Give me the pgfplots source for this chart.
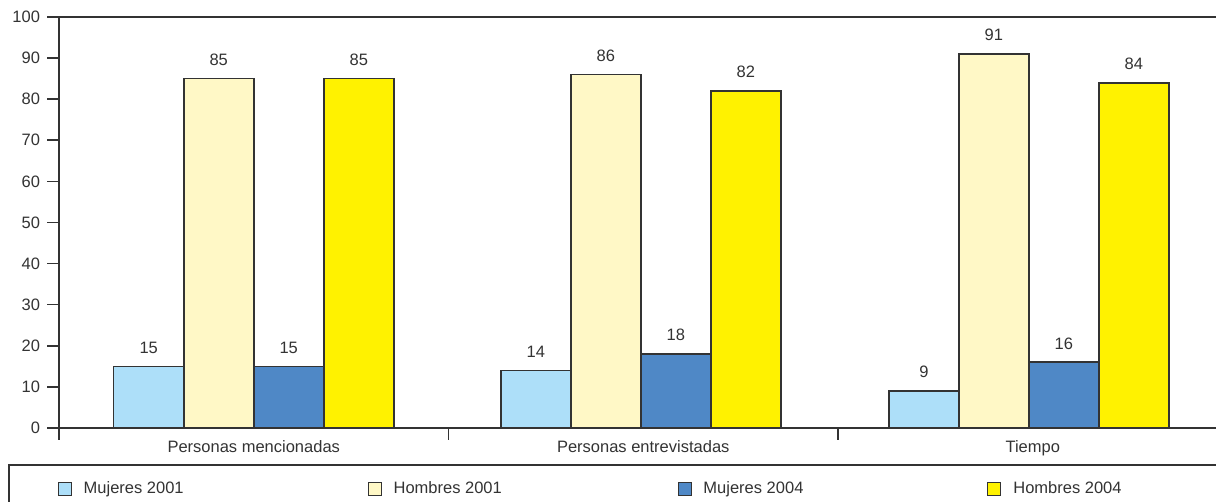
\documentclass[border=0pt]{standalone}
\usepackage{fontspec}
\setmainfont{Liberation Sans}
\usepackage{pgfplots}
\pgfplotsset{compat=1.18}

\definecolor{mujA}{HTML}{ADDFF9}
\definecolor{homA}{HTML}{FFF8C6}
\definecolor{mujB}{HTML}{4F88C6}
\definecolor{homB}{HTML}{FFF200}
\definecolor{ink}{HTML}{333333}

\newcommand{\lblfont}{\fontsize{16.5bp}{19bp}\selectfont}

\begin{document}
\begin{tikzpicture}
\begin{axis}[
  name=ax,
  scale only axis,
  width=1157bp, height=411bp,
  xmin=0, xmax=2.9705,
  ymin=0, ymax=100,
  /pgf/number format/assume math mode=true,
  axis x line*=box, axis y line*=left,
  axis line style={ink, line width=1.6bp},
  ytick={0,10,...,100},
  xtick={0,1,2,3},
  xticklabels={},
  extra x ticks={0.5,1.5,2.5},
  extra x tick labels={Personas mencionadas, Personas entrevistadas, Tiempo},
  extra x tick style={major tick length=0pt,
    tick label style={yshift=-9bp}},
  xtick pos=bottom, ytick pos=left,
  tick align=outside,
  major tick length=11.5bp,
  tick style={ink, line width=1.6bp},
  ticklabel style={font=\lblfont, text=ink},
  yticklabel style={xshift=-4bp},
  ybar=0pt, bar width=70bp,
  every axis plot/.append style={draw=ink, line width=1.5bp},
  nodes near coords,
  nodes near coords style={font=\lblfont, text=ink, yshift=9bp},
  legend columns=4,
  legend style={
    at={(-0.04408,-0.08759)}, anchor=north west,
    draw=ink, line width=1.6bp,
    inner xsep=49bp, inner ysep=17bp,
    /tikz/every odd column/.append style={column sep=12bp},
    nodes={inner sep=0pt, font=\lblfont, text=ink},
  },
  legend image code/.code={
    \draw[#1, line width=0.9bp] (0bp,-6.5bp) rectangle (13bp,6.5bp);
  },
]
\addplot[fill=mujA] coordinates {(0.5,15) (1.494,14) (2.49,9)};
\addlegendentry{\makebox[284bp][l]{Mujeres 2001}}
\addplot[fill=homA] coordinates {(0.5,85) (1.494,86) (2.49,91)};
\addlegendentry{\makebox[284bp][l]{Hombres 2001}}
\addplot[fill=mujB] coordinates {(0.5,15) (1.494,18) (2.49,16)};
\addlegendentry{\makebox[284bp][l]{Mujeres 2004}}
\addplot[fill=homB] coordinates {(0.5,85) (1.494,82) (2.49,84)};
\addlegendentry{\makebox[284bp][l]{Hombres 2004}}
\end{axis}
\pgfresetboundingbox
\path[use as bounding box] ([shift={(-59bp,-74bp)}]ax.south west) rectangle ++(1216bp,502bp);
\end{tikzpicture}
\end{document}
